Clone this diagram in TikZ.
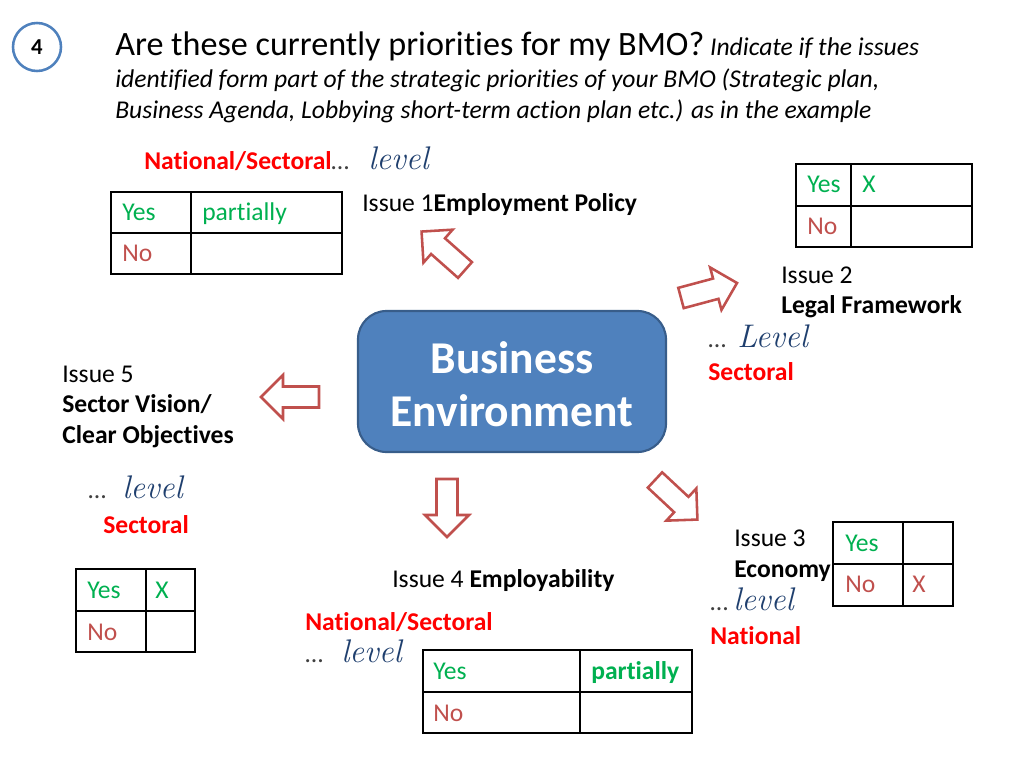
\documentclass[tikz,border=0pt]{standalone}
\usepackage{fontspec}
\setmainfont{Carlito}[Ligatures={NoCommon,NoRequired,NoContextual}, Contextuals=NoAlternate, RawFeature={-dlig}]
\definecolor{boxblue}{HTML}{4F81BD}
\definecolor{boxedge}{HTML}{385D8A}
\definecolor{arrowred}{HTML}{C0504D}
\definecolor{yesgreen}{HTML}{00B050}
\definecolor{nored}{HTML}{C0504D}
\definecolor{sectred}{HTML}{FF0000}
\definecolor{lvlblue}{HTML}{1F3F6E}

\tikzset{
  txt/.style={anchor=base west, inner sep=0pt, font=\fontsize{18}{22}\selectfont},
  boldtxt/.style={txt, font=\fontsize{18}{22}\selectfont\bfseries},
  redtxt/.style={boldtxt, text=sectred},
  yestxt/.style={txt, text=yesgreen},
  notxt/.style={txt, text=nored},
  dots/.style={txt, text=black!75},
  lvl/.style={txt, text=lvlblue, font=\fontsize{23}{27}\fontfamily{lmr}\selectfont\itshape},
  grid line/.style={draw=black, line width=1.1pt},
  blockarr/.pic={
    \draw[arrowred, line width=1.8pt, fill=white, line join=miter]
      (0,-10.5) -- (36,-10.5) -- (36,-22) -- (58,0) -- (36,22) -- (36,10.5) -- (0,10.5) -- cycle;
  }
}

\begin{document}
\begin{tikzpicture}[x=0.703125pt, y=-0.703125pt]
\useasboundingbox (0,0) rectangle (1024,768);

% number badge and heading
\draw[boxblue, line width=1.8pt] (37,47) circle (24);
\node[font=\fontsize{16}{18}\selectfont\bfseries] (num) at (37,47) {4};
\node[txt] (head1) at (115,56) {{\fontsize{24}{29}\selectfont Are these currently priorities for my BMO?} \textit{Indicate if the issues}};
\node[txt, font=\fontsize{18}{22}\selectfont\itshape] (head2) at (115,88) {identified form part of the strategic priorities of your BMO (Strategic plan,};
\node[txt, font=\fontsize{18}{22}\selectfont\itshape] (head3) at (115,119) {Business Agenda, Lobbying short-term action plan etc.) as in the example};

% central box
\draw[boxedge, fill=boxblue, line width=1.5pt, rounded corners=20] (358,311) rectangle (666,452);
\node[text=white, font=\fontsize{32}{37}\selectfont\bfseries, align=center] (env) at (512,384) {Business\\Environment};

% arrows
\pic (arrA) [rotate=138.5] at (465,270) {blockarr};
\pic (arrB) [rotate=15] at (681,298) {blockarr};
\pic (arrC) [rotate=-43] at (655,480) {blockarr};
\pic (arrD) [rotate=-90] at (447,479) {blockarr};
\pic (arrE) [rotate=180] at (319,397) {blockarr};

% issue 1
\node[redtxt] (lvlAred) at (144,170) {National/Sectoral};
\node[dots] (lvlAdots) at (331,170) {\ldots};
\node[lvl] (lvlA) at (368,170) {level};
\node[txt] (issA) at (362,212) {Issue 1\textbf{Employment Policy}};
\draw[grid line] (111,192) rectangle (342,274);
\draw[grid line] (191,192) -- (191,274);
\draw[grid line] (111,233) -- (342,233);
\node[yestxt] (tabAyes) at (122,221) {Yes};
\node[yestxt] (tabAval) at (202,221) {partially};
\node[notxt] (tabAno) at (122,262) {No};

% issue 2
\draw[grid line] (796,164) rectangle (972,247);
\draw[grid line] (851,164) -- (851,247);
\draw[grid line] (796,206) -- (972,206);
\node[yestxt] (tabByes) at (807,193) {Yes};
\node[yestxt] (tabBval) at (862,193) {X};
\node[notxt] (tabBno) at (807,235) {No};
\node[txt] (issB) at (781,283) {Issue 2};
\node[boldtxt] (issBname) at (781,313) {Legal Framework};
\node[dots] (lvlBdots) at (708,347) {\ldots};
\node[lvl] (lvlB) at (737,347) {Level};
\node[redtxt] (lvlBred) at (708,380) {Sectoral};

% issue 5
\node[txt] (issE) at (62,382) {Issue 5};
\node[boldtxt] (issEname1) at (62,412) {Sector Vision/};
\node[boldtxt] (issEname2) at (62,443) {Clear Objectives};
\node[dots] (lvlEdots) at (88,498) {\ldots};
\node[lvl] (lvlE) at (122,498) {level};
\node[redtxt] (lvlEred) at (103,533) {Sectoral};
\draw[grid line] (76,569) rectangle (195,652);
\draw[grid line] (146,569) -- (146,652);
\draw[grid line] (76,611) -- (195,611);
\node[yestxt] (tabEyes) at (87,598) {Yes};
\node[yestxt] (tabEval) at (155,598) {X};
\node[notxt] (tabEno) at (87,640) {No};

% issue 4
\node[txt] (issD) at (392,587) {Issue 4 \textbf{Employability}};
\node[redtxt] (lvlDred) at (305,630) {National/Sectoral};
\node[dots] (lvlDdots) at (305,662) {\ldots};
\node[lvl] (lvlD) at (341,662) {level};
\draw[grid line] (423,650) rectangle (692,733);
\draw[grid line] (580,650) -- (580,733);
\draw[grid line] (423,692) -- (692,692);
\node[yestxt] (tabDyes) at (433,679) {Yes};
\node[yestxt, font=\fontsize{18}{22}\selectfont\bfseries] (tabDval) at (591,679) {partially};
\node[notxt] (tabDno) at (433,721) {No};

% issue 3
\node[txt] (issC) at (734,546) {Issue 3};
\node[boldtxt] (issCname) at (734,577) {Economy};
\node[dots] (lvlCdots) at (710,610) {\ldots};
\node[lvl] (lvlC) at (733,610) {level};
\node[redtxt] (lvlCred) at (710,644) {National};
\draw[grid line] (833,522) rectangle (953,606);
\draw[grid line] (903,522) -- (903,606);
\draw[grid line] (833,564) -- (953,564);
\node[yestxt] (tabCyes) at (845,551) {Yes};
\node[notxt] (tabCno) at (845,592) {No};
\node[notxt] (tabCval) at (912,592) {X};
\end{tikzpicture}
\end{document}
